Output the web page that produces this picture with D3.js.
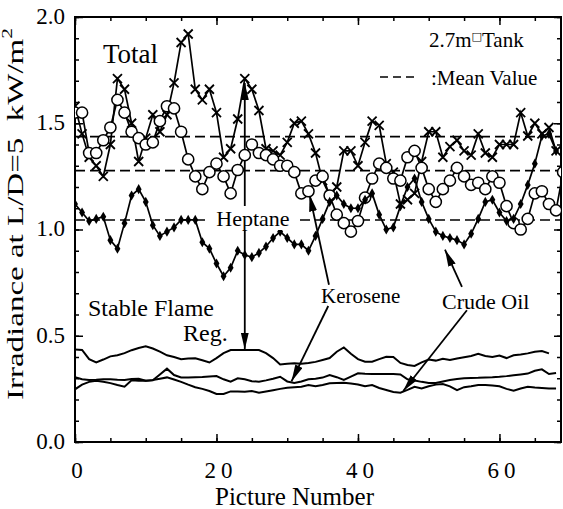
<!DOCTYPE html>
<html>
<head>
<meta charset="utf-8">
<script src="https://cdn.jsdelivr.net/npm/d3@7"></script>
<style>
  body { margin: 0; background: #fff; }
</style>
</head>
<body>
<div id="chart"></div>
<script>

// picture numbers (x) and irradiance readings, kW/m2
var pictures = [0,1,2,3,4,5,6,7,8,9,10,11,12,13,14,15,16,17,18,19,20,21,22,23,24,25,26,27,28,29,
  30,31,32,33,34,35,36,37,38,39,40,41,42,43,44,45,46,47,48,49,50,51,52,53,54,55,56,57,58,59,
  60,61,62,63,64,65,66,67,68,69];

// total irradiance, heptane (x marks)
var heptaneTotal = [1.58,1.45,1.34,1.30,1.25,1.40,1.71,1.66,1.50,1.32,1.43,1.54,1.46,1.54,1.69,1.88,1.92,1.66,1.61,1.66,
  1.55,1.34,1.38,1.52,1.71,1.66,1.56,1.38,1.37,1.35,1.41,1.50,1.51,1.45,1.36,1.23,1.16,1.20,1.37,1.37,
  1.30,1.41,1.51,1.49,1.31,1.27,1.12,1.14,1.17,1.32,1.46,1.46,1.34,1.39,1.42,1.37,1.35,1.45,1.36,1.34,
  1.40,1.40,1.40,1.55,1.44,1.50,1.45,1.48,1.37];

// total irradiance, kerosene (open circles)
var keroseneTotal = [1.55,1.55,1.36,1.36,1.42,1.48,1.61,1.55,1.46,1.43,1.40,1.41,1.51,1.58,1.57,1.46,1.33,1.25,1.19,1.27,
  1.31,1.25,1.17,1.28,1.35,1.40,1.36,1.35,1.33,1.30,1.30,1.27,1.17,1.18,1.23,1.25,1.16,1.07,1.03,0.99,
  1.04,1.15,1.24,1.31,1.29,1.24,1.23,1.34,1.37,1.29,1.19,1.13,1.19,1.23,1.29,1.25,1.21,1.22,1.19,1.25,
  1.22,1.11,1.03,1.00,1.05,1.17,1.18,1.12,1.09,1.27];

// total irradiance, crude oil (small filled marks)
var crudeTotal = [1.12,1.08,1.04,1.05,1.06,0.95,0.91,1.03,1.16,1.19,1.13,1.02,0.97,0.99,1.01,1.045,1.045,1.045,0.94,0.91,
  0.84,0.78,0.82,0.90,0.88,0.87,0.89,0.92,0.96,0.99,0.96,0.93,0.93,0.90,0.97,1.05,1.13,1.16,1.12,1.10,
  1.10,1.14,1.17,1.07,1.00,1.01,1.11,1.20,1.24,1.13,1.05,0.99,0.97,0.96,0.95,0.93,0.98,1.05,1.13,1.14,
  1.08,1.04,1.05,1.12,1.21,1.31,1.44,1.45,1.37];

// stable flame region
var heptaneStable = [0.435,0.433,0.39,0.375,0.388,0.403,0.408,0.418,0.432,0.442,0.450,0.440,0.425,0.408,0.400,0.390,0.393,0.394,0.385,0.374,
  0.395,0.418,0.433,0.433,0.433,0.433,0.433,0.418,0.395,0.365,0.368,0.370,0.368,0.372,0.377,0.386,0.395,0.425,0.445,0.415,
  0.390,0.378,0.378,0.390,0.401,0.400,0.372,0.362,0.358,0.375,0.388,0.383,0.392,0.386,0.393,0.399,0.405,0.415,0.405,0.400,
  0.407,0.395,0.408,0.412,0.417,0.425,0.428,0.417];

var keroseneStable = [0.305,0.295,0.292,0.293,0.295,0.295,0.293,0.292,0.297,0.298,0.288,0.290,0.318,0.345,0.315,0.304,0.304,0.305,0.306,0.308,
  0.310,0.295,0.284,0.300,0.295,0.286,0.284,0.290,0.298,0.307,0.285,0.278,0.285,0.295,0.298,0.303,0.315,0.305,0.292,0.308,
  0.323,0.321,0.320,0.320,0.320,0.320,0.318,0.295,0.289,0.283,0.278,0.278,0.285,0.292,0.296,0.300,0.301,0.302,0.304,0.305,
  0.307,0.310,0.314,0.318,0.322,0.335,0.342,0.320,0.325];

var crudeStable = [0.248,0.270,0.283,0.288,0.284,0.277,0.268,0.260,0.290,0.288,0.288,0.292,0.298,0.304,0.294,0.283,0.270,0.258,0.250,0.240,
  0.226,0.226,0.238,0.238,0.236,0.240,0.232,0.238,0.244,0.250,0.255,0.258,0.260,0.268,0.262,0.268,0.276,0.278,0.279,0.275,
  0.271,0.262,0.268,0.254,0.245,0.235,0.232,0.245,0.260,0.252,0.262,0.270,0.273,0.262,0.244,0.258,0.262,0.268,0.268,0.266,
  0.262,0.250,0.241,0.252,0.260,0.256,0.254,0.252,0.252];

// mean values (dashed lines): heptane, kerosene, crude oil
var meanValues = [1.437, 1.277, 1.045];

// tick values
var xMajorTicks = [0, 20, 40, 60];
var yMajorTicks = [0, 0.5, 1.0, 1.5, 2.0];

// pointer arrows, in data units [picture, irradiance]
var arrows = [
  {from: [24, 1.69], to: [24, 0.435], both: true},
  {from: [35.9, 0.74], to: [33.15, 1.165]},
  {from: [35.8, 0.64], to: [30.6, 0.285]},
  {from: [54.7, 0.73], to: [52.3, 0.905]},
  {from: [55.4, 0.62], to: [46.4, 0.24]}
];

var serif = "Liberation Serif";

var margin = {top: 17, right: 2, bottom: 67, left: 75},
  width = 563 - margin.left - margin.right,
  height = 509 - margin.top - margin.bottom;

var svgRoot = d3.select("#chart")
  .append("svg")
    .attr("width", 563)
    .attr("height", 509)
    .attr("font-family", serif);

var svg = svgRoot.append("g")
    .attr("transform", "translate(" + margin.left + "," + margin.top + ")");

var x = d3.scaleLinear().domain([0, 68.7]).range([0, width]);
var y = d3.scaleLinear().domain([0, 2]).range([height, 0]);

var defs = svgRoot.append("defs");
defs.append("clipPath").attr("id", "plot-clip")
  .append("rect").attr("width", width).attr("height", height);

defs.append("marker")
    .attr("id", "head")
    .attr("viewBox", "0 0 17 8")
    .attr("refX", 17).attr("refY", 4)
    .attr("markerWidth", 17).attr("markerHeight", 8)
    .attr("markerUnits", "userSpaceOnUse")
    .attr("orient", "auto-start-reverse")
  .append("path")
    .attr("d", "M0,0L17,4L0,8Z")
    .attr("fill", "#000");

// axes: ticks point inward on all four sides
function styleAxis(g) {
  g.attr("font-family", serif);
  g.select(".domain").remove();
  g.selectAll(".tick line").attr("stroke", "#000").attr("stroke-width", 1.5);
  g.selectAll(".tick text").attr("fill", "#000").attr("font-family", serif);
}

var minorX = d3.range(0, 69, 5);
var minorY = d3.range(0, 2.01, 0.1);

svg.append("g").attr("transform", "translate(0," + height + ")")
  .call(d3.axisBottom(x).tickValues(minorX).tickSize(-4).tickFormat(""))
  .call(styleAxis);
svg.append("g").attr("transform", "translate(0," + height + ")")
  .call(d3.axisBottom(x).tickValues(xMajorTicks).tickSize(-8).tickPadding(20))
  .call(styleAxis)
  .attr("font-size", 23)
  .selectAll("text")
    .attr("letter-spacing", "5px")
    .attr("dx", 4);

svg.append("g")
  .call(d3.axisTop(x).tickValues(minorX).tickSize(-4).tickFormat(""))
  .call(styleAxis);
svg.append("g")
  .call(d3.axisTop(x).tickValues(xMajorTicks).tickSize(-8).tickFormat(""))
  .call(styleAxis);

svg.append("g")
  .call(d3.axisLeft(y).tickValues(minorY).tickSize(-4).tickFormat(""))
  .call(styleAxis);
svg.append("g")
  .call(d3.axisLeft(y).tickValues(yMajorTicks).tickSize(-8).tickPadding(10).tickFormat(d3.format(".1f")))
  .call(styleAxis)
  .attr("font-size", 23)
  .selectAll("text")
    .attr("dy", "0.28em");

svg.append("g").attr("transform", "translate(" + width + ",0)")
  .call(d3.axisRight(y).tickValues(minorY).tickSize(-4).tickFormat(""))
  .call(styleAxis);
svg.append("g").attr("transform", "translate(" + width + ",0)")
  .call(d3.axisRight(y).tickValues(yMajorTicks).tickSize(-7).tickFormat(""))
  .call(styleAxis);

svg.append("rect")
  .attr("width", width).attr("height", height)
  .attr("fill", "none").attr("stroke", "#000").attr("stroke-width", 2);

// axis titles
svgRoot.append("text")
  .attr("x", 215).attr("y", 505)
  .attr("font-size", 25)
  .text("Picture Number");

var yTitle = svgRoot.append("text")
  .attr("transform", "translate(23,400) rotate(-90)")
  .attr("font-size", 23)
  .attr("textLength", 372)
  .attr("lengthAdjust", "spacingAndGlyphs")
  .style("white-space", "pre");
yTitle.append("tspan").text("Irradiance at L/D=5  kW/m");
yTitle.append("tspan").attr("font-size", 15).attr("dy", -11).text("2");

// mean value lines
svg.append("g").selectAll("line")
  .data(meanValues)
  .enter()
  .append("line")
    .attr("x1", 0).attr("x2", width)
    .attr("y1", function(d) { return y(d); })
    .attr("y2", function(d) { return y(d); })
    .attr("stroke", "#000")
    .attr("stroke-width", 1.6)
    .attr("stroke-dasharray", "10,5");

// arrows
svg.append("g").selectAll("line")
  .data(arrows)
  .enter()
  .append("line")
    .attr("x1", function(d) { return x(d.from[0]); })
    .attr("y1", function(d) { return y(d.from[1]); })
    .attr("x2", function(d) { return x(d.to[0]); })
    .attr("y2", function(d) { return y(d.to[1]); })
    .attr("stroke", "#000")
    .attr("stroke-width", 1.8)
    .attr("marker-end", "url(#head)")
    .attr("marker-start", function(d) { return d.both ? "url(#head)" : null; });

// heptane label sits on the lowest mean line
svgRoot.append("rect")
  .attr("x", 210).attr("y", 206).attr("width", 86).attr("height", 24)
  .attr("fill", "#fff");
svgRoot.append("text")
  .attr("x", 253).attr("y", 226)
  .attr("text-anchor", "middle")
  .attr("font-size", 22)
  .text("Heptane");

var line = d3.line()
  .x(function(d) { return x(d[0]); })
  .y(function(d) { return y(d[1]); });

function pairs(values) {
  return values.map(function(v, i) { return [pictures[i], v]; });
}

var plot = svg.append("g").attr("clip-path", "url(#plot-clip)");

// stable flame lines
[heptaneStable, keroseneStable, crudeStable].forEach(function(s) {
  plot.append("path")
    .attr("d", line(pairs(s)))
    .attr("fill", "none")
    .attr("stroke", "#000")
    .attr("stroke-width", 2);
});

// heptane total
plot.append("path")
  .attr("d", line(pairs(heptaneTotal)))
  .attr("fill", "none").attr("stroke", "#000").attr("stroke-width", 1.7);
plot.selectAll(".xmark")
  .data(pairs(heptaneTotal))
  .enter()
  .append("path")
    .attr("class", "xmark")
    .attr("transform", function(d) { return "translate(" + x(d[0]) + "," + y(d[1]) + ")"; })
    .attr("d", "M-4.5,-4.5L4.5,4.5M-4.5,4.5L4.5,-4.5")
    .attr("stroke", "#000").attr("stroke-width", 1.8);

// kerosene total
plot.append("path")
  .attr("d", line(pairs(keroseneTotal)))
  .attr("fill", "none").attr("stroke", "#000").attr("stroke-width", 1.7);
plot.selectAll(".omark")
  .data(pairs(keroseneTotal))
  .enter()
  .append("circle")
    .attr("class", "omark")
    .attr("cx", function(d) { return x(d[0]); })
    .attr("cy", function(d) { return y(d[1]); })
    .attr("r", 5.6)
    .attr("fill", "#fff").attr("stroke", "#000").attr("stroke-width", 1.5);

// crude oil total
plot.append("path")
  .attr("d", line(pairs(crudeTotal)))
  .attr("fill", "none").attr("stroke", "#000").attr("stroke-width", 1.7);
plot.selectAll(".dmark")
  .data(pairs(crudeTotal))
  .enter()
  .append("path")
    .attr("class", "dmark")
    .attr("transform", function(d) { return "translate(" + x(d[0]) + "," + y(d[1]) + ")"; })
    .attr("d", d3.symbol().type(d3.symbolDiamond).size(30))
    .attr("fill", "#000");

// annotations
svgRoot.append("text").attr("x", 103).attr("y", 63).attr("font-size", 27).text("Total");

var tank = svgRoot.append("text").attr("x", 429).attr("y", 47).attr("font-size", 21);
tank.append("tspan").text("2.7m");
tank.append("tspan").attr("dy", -7).attr("font-size", 11).attr("font-family", "DejaVu Sans").text("\u25A1");
tank.append("tspan").attr("dy", 7).text("Tank");

svgRoot.append("line")
  .attr("x1", 380).attr("x2", 414).attr("y1", 77).attr("y2", 77)
  .attr("stroke", "#000").attr("stroke-width", 1.6)
  .attr("stroke-dasharray", "8,5");
svgRoot.append("text").attr("x", 431).attr("y", 85).attr("font-size", 21).text(":Mean Value");

svgRoot.append("text").attr("x", 321).attr("y", 303).attr("font-size", 21).text("Kerosene");
svgRoot.append("text").attr("x", 442).attr("y", 309).attr("font-size", 22).text("Crude Oil");
svgRoot.append("text").attr("x", 88).attr("y", 316).attr("font-size", 24).text("Stable Flame");
svgRoot.append("text").attr("x", 183).attr("y", 341).attr("font-size", 24).text("Reg.");

</script>
</body>
</html>
